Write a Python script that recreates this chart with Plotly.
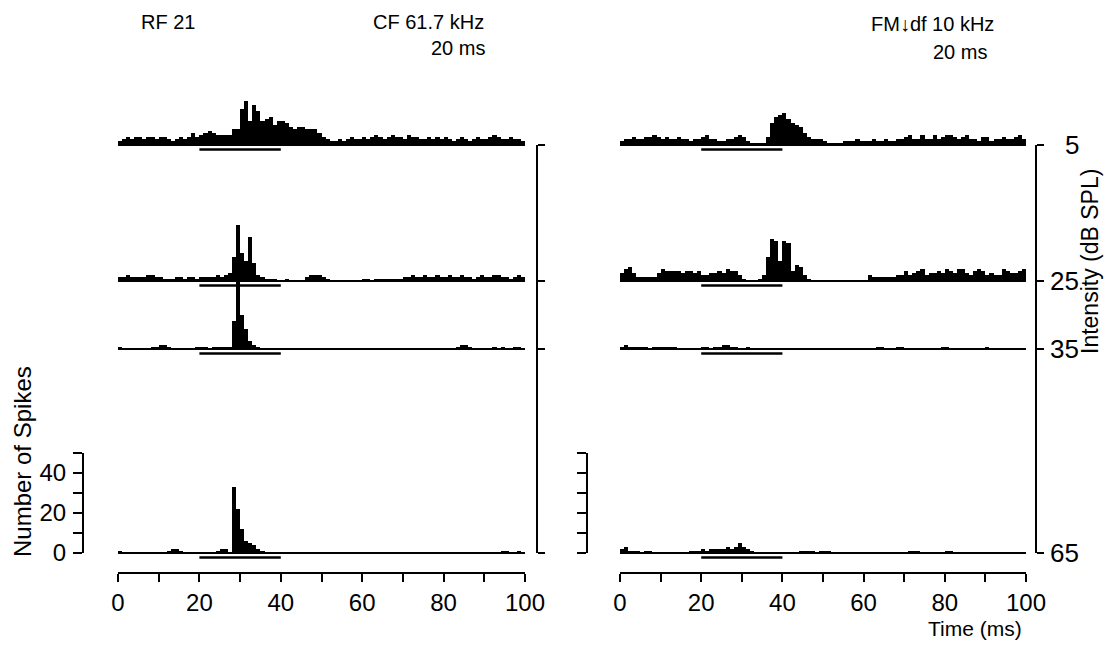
import plotly.graph_objects as go

# ---------------- data ----------------
time_bins_ms = list(range(100))          # 1-ms bins, bin start times
intensities_db = [5, 25, 35, 65]
stim_on_ms, stim_off_ms = 20, 40

# CF 61.7 kHz, 20 ms (left panel) - spikes per bin
cf_5db = [2, 3, 4, 3, 4, 4, 3, 4, 4, 3, 4, 4, 3, 2, 3, 4, 3, 4, 6, 4,
          5, 6, 7, 6, 5, 5, 5, 5, 8, 8, 18, 22, 12, 20, 17, 12, 13, 14, 10, 12,
          12, 11, 9, 8, 9, 9, 8, 8, 8, 6, 4, 3, 2, 2, 3, 2, 3, 4, 3, 3,
          4, 3, 4, 5, 4, 3, 4, 5, 4, 4, 3, 5, 4, 4, 3, 3, 4, 3, 4, 3,
          4, 3, 2, 3, 4, 3, 2, 3, 4, 3, 3, 4, 5, 4, 3, 3, 4, 3, 3, 2]
cf_25db = [2, 2, 3, 2, 2, 2, 2, 3, 3, 2, 2, 1, 1, 1, 2, 2, 1, 2, 2, 1,
           2, 2, 2, 2, 3, 2, 3, 4, 12, 28, 14, 10, 22, 9, 3, 2, 1, 1, 1, 0,
           0, 1, 0, 0, 0, 0, 2, 3, 3, 3, 2, 1, 0, 0, 0, 0, 0, 0, 0, 0,
           1, 1, 0, 1, 1, 1, 1, 1, 1, 1, 2, 2, 3, 2, 2, 3, 2, 2, 3, 2,
           2, 3, 2, 2, 3, 2, 2, 1, 2, 3, 2, 2, 3, 3, 2, 2, 1, 2, 3, 2]
cf_35db = [1, 0, 0, 0, 0, 0, 0, 0, 1, 1, 2, 2, 1, 0, 0, 0, 0, 0, 0, 1,
           1, 1, 0, 1, 1, 1, 1, 1, 14, 42, 17, 10, 4, 2, 1, 0, 0, 0, 0, 0,
           0, 0, 0, 0, 0, 0, 0, 0, 0, 0, 0, 0, 0, 0, 0, 0, 0, 0, 0, 0,
           0, 0, 0, 0, 0, 0, 0, 0, 0, 0, 0, 0, 0, 0, 0, 0, 0, 0, 0, 0,
           0, 0, 0, 1, 2, 2, 1, 0, 0, 0, 0, 0, 1, 0, 1, 0, 0, 1, 1, 0]
cf_65db = [1, 0, 0, 0, 0, 0, 0, 0, 0, 0, 0, 0, 1, 2, 2, 1, 0, 0, 0, 0,
           0, 0, 0, 0, 1, 2, 2, 0, 33, 22, 12, 6, 5, 4, 2, 1, 0, 0, 0, 0,
           0, 0, 0, 0, 0, 0, 0, 0, 0, 0, 0, 0, 0, 0, 0, 0, 0, 0, 0, 0,
           0, 0, 0, 0, 0, 0, 0, 0, 0, 0, 0, 0, 0, 0, 0, 0, 0, 0, 0, 0,
           0, 0, 0, 0, 0, 0, 0, 0, 0, 0, 0, 0, 0, 0, 1, 1, 0, 0, 1, 0]

# FM (down) df 10 kHz, 20 ms (right panel)
fm_5db = [2, 3, 3, 4, 3, 3, 4, 4, 5, 4, 3, 4, 3, 3, 4, 3, 3, 2, 3, 3,
          4, 5, 3, 3, 2, 2, 3, 3, 4, 5, 4, 2, 1, 1, 1, 1, 4, 11, 14, 15,
          16, 13, 11, 10, 9, 6, 4, 3, 3, 3, 2, 1, 1, 1, 1, 2, 2, 2, 3, 2,
          2, 2, 3, 2, 2, 3, 2, 2, 3, 3, 4, 5, 3, 3, 5, 3, 3, 5, 3, 4,
          5, 5, 4, 3, 4, 5, 3, 3, 2, 4, 4, 2, 3, 3, 4, 3, 3, 4, 5, 3]
fm_25db = [4, 6, 7, 4, 2, 2, 2, 2, 2, 4, 6, 5, 5, 5, 5, 4, 5, 5, 4, 5,
           3, 3, 4, 4, 5, 4, 6, 5, 5, 3, 1, 0, 0, 0, 1, 3, 12, 21, 20, 10,
           20, 19, 5, 8, 7, 3, 1, 0, 0, 0, 0, 0, 0, 0, 0, 0, 0, 0, 0, 0,
           0, 3, 2, 2, 2, 2, 2, 2, 3, 3, 5, 3, 4, 5, 6, 3, 4, 4, 5, 4,
           6, 5, 4, 6, 6, 4, 3, 5, 6, 5, 3, 4, 3, 3, 6, 5, 4, 4, 5, 6]
fm_35db = [1, 2, 1, 1, 1, 1, 1, 0, 1, 1, 1, 1, 1, 1, 0, 0, 0, 0, 0, 0,
           1, 1, 0, 1, 1, 2, 2, 1, 1, 0, 0, 1, 0, 0, 0, 0, 0, 0, 0, 0,
           0, 0, 0, 0, 0, 0, 0, 0, 0, 0, 0, 0, 0, 0, 0, 0, 0, 0, 0, 0,
           0, 0, 0, 1, 1, 0, 0, 0, 1, 1, 0, 0, 0, 0, 0, 0, 0, 0, 0, 1,
           1, 0, 0, 0, 0, 0, 0, 0, 0, 0, 1, 0, 0, 0, 0, 0, 0, 0, 0, 0]
fm_65db = [2, 3, 1, 1, 1, 0, 1, 1, 0, 0, 0, 0, 0, 0, 0, 0, 0, 1, 1, 1,
           2, 1, 2, 2, 2, 2, 3, 2, 3, 5, 3, 2, 1, 0, 0, 0, 0, 0, 0, 0,
           0, 0, 0, 0, 1, 1, 1, 1, 0, 1, 1, 1, 0, 0, 0, 0, 0, 0, 0, 0,
           0, 0, 0, 0, 0, 0, 0, 0, 0, 0, 0, 1, 1, 1, 0, 0, 0, 0, 0, 0,
           1, 1, 0, 0, 0, 0, 0, 0, 0, 0, 0, 0, 0, 0, 0, 0, 0, 0, 0, 0]

x_tick_vals = [0, 10, 20, 30, 40, 50, 60, 70, 80, 90, 100]
x_tick_text = ["0", "", "20", "", "40", "", "60", "", "80", "", "100"]
spike_tick_vals = [0, 10, 20, 30, 40, 50]
spike_tick_text = ["0", "", "20", "", "40", ""]

# ---------------- layout constants ----------------
PAGE_PAD = 8                          # page body margin around the figure
W, H = 1112 - 2 * PAGE_PAD, 650 - 2 * PAGE_PAD
T_PX, B_PX = 60, 572                  # plot area top / bottom (page pixels)
SPIKES_PER_DB = 3.4                   # vertical spacing of the stacked histograms
Y_MIN, Y_MAX = -9.5, 246.5            # main (spike) axis range
FONT = "Liberation Sans Narrow, Liberation Sans, Arial, sans-serif"

def fx(px):
    return (px - PAGE_PAD) / W

def fy(py):
    return (B_PX - py) / (B_PX - T_PX)

def offset(db):
    return (65 - db) * SPIKES_PER_DB

def frac(s):
    return (s - Y_MIN) / (Y_MAX - Y_MIN)

fig = go.Figure()
panels = [("x", [cf_5db, cf_25db, cf_35db, cf_65db]),
          ("x2", [fm_5db, fm_25db, fm_35db, fm_65db])]
centers = [t + 0.5 for t in time_bins_ms]
for xa, series in panels:
    for db, counts in zip(intensities_db, series):
        off = offset(db)
        fig.add_trace(go.Scatter(x=[-0.5, 100.5], y=[off, off], mode="lines",
                                 line=dict(color="black", width=2),
                                 xaxis=xa, yaxis="y", showlegend=False, hoverinfo="skip"))
        fig.add_trace(go.Bar(x=centers, y=counts, base=off, width=1,
                             marker=dict(color="black", line=dict(width=0)),
                             xaxis=xa, yaxis="y", showlegend=False))
        fig.add_trace(go.Scatter(x=[stim_on_ms, stim_off_ms], y=[off - 2.2, off - 2.2],
                                 mode="lines", line=dict(color="black", width=2.5),
                                 xaxis=xa, yaxis="y", showlegend=False, hoverinfo="skip"))

# dummy traces so the scale axes are drawn
for ya in ["y2", "y3", "y4", "y5"]:
    fig.add_trace(go.Scatter(x=[None], y=[None], xaxis="x", yaxis=ya,
                             showlegend=False, hoverinfo="skip"))

xcommon = dict(range=[0, 100], tickvals=x_tick_vals, ticktext=x_tick_text,
               ticks="outside", ticklen=8, tickwidth=2, tickcolor="black",
               showline=True, linewidth=2, linecolor="black", showgrid=False,
               zeroline=False, tickfont=dict(size=24, color="black", family=FONT),
               anchor="y", fixedrange=True, ticklabelstandoff=0, automargin=False)

db_dom = [frac(offset(65)), frac(offset(5))]
sp_dom = [frac(0), frac(50)]
ycommon = dict(showgrid=False, zeroline=False, showline=True, linewidth=2,
               linecolor="black", tickwidth=2, tickcolor="black", anchor="free",
               fixedrange=True, automargin=False)

fig.update_layout(
    width=W, height=H,
    margin=dict(l=0, r=0, t=T_PX - PAGE_PAD, b=PAGE_PAD + H - B_PX, autoexpand=False),
    paper_bgcolor="white", plot_bgcolor="rgba(0,0,0,0)",
    barmode="overlay", bargap=0,
    font=dict(family=FONT, color="black"),
    xaxis=dict(domain=[fx(118), fx(525)], **xcommon),
    xaxis2=dict(domain=[fx(620), fx(1026)], **xcommon),
    yaxis=dict(range=[Y_MIN, Y_MAX], domain=[0, 1], visible=False, fixedrange=True,
               automargin=False),
    yaxis2=dict(domain=db_dom, range=[65, 5], side="right", position=fx(1036),
                tickvals=intensities_db, ticks="outside", ticklen=7,
                showticklabels=False, **ycommon),
    yaxis3=dict(domain=db_dom, range=[65, 5], side="right", position=fx(537),
                tickvals=intensities_db, ticks="outside", ticklen=7,
                showticklabels=False, **ycommon),
    yaxis4=dict(domain=sp_dom, range=[0, 50], side="left", position=fx(83),
                tickvals=spike_tick_vals, ticktext=spike_tick_text, ticks="outside",
                ticklen=9, tickfont=dict(size=24, color="black", family=FONT),
                ticklabelstandoff=2, **ycommon),
    yaxis5=dict(domain=sp_dom, range=[0, 50], side="left", position=fx(587),
                tickvals=spike_tick_vals, ticks="outside", ticklen=9,
                showticklabels=False, **ycommon),
)

ann = []
def add_text(text, px, py, size, xanchor="center", angle=0, yanchor="middle"):
    ann.append(dict(text=text, x=fx(px), y=fy(py), xref="paper", yref="paper",
                    xanchor=xanchor, yanchor=yanchor, showarrow=False,
                    textangle=angle, font=dict(size=size, color="black", family=FONT)))

add_text("RF 21", 168, 22, 20)
add_text("CF 61.7 kHz", 428, 22, 20)
add_text("20 ms", 458, 48, 20)
add_text("FM\u2193df 10 kHz", 932, 24, 20)
add_text("20 ms", 960, 52, 20)
add_text("Time (ms)", 975, 642, 21, yanchor="bottom")
add_text("Number of Spikes", 22, 462, 24, angle=-90)
add_text("Intensity (dB SPL)", 1090, 262, 23, angle=-90)
for db in intensities_db:
    ann.append(dict(text=str(db), x=fx(1081), y=db, xref="paper", yref="y2",
                    xanchor="right", yanchor="middle", showarrow=False,
                    font=dict(size=26, color="black", family=FONT)))
fig.update_layout(annotations=ann)

fig.write_html("out.html")
